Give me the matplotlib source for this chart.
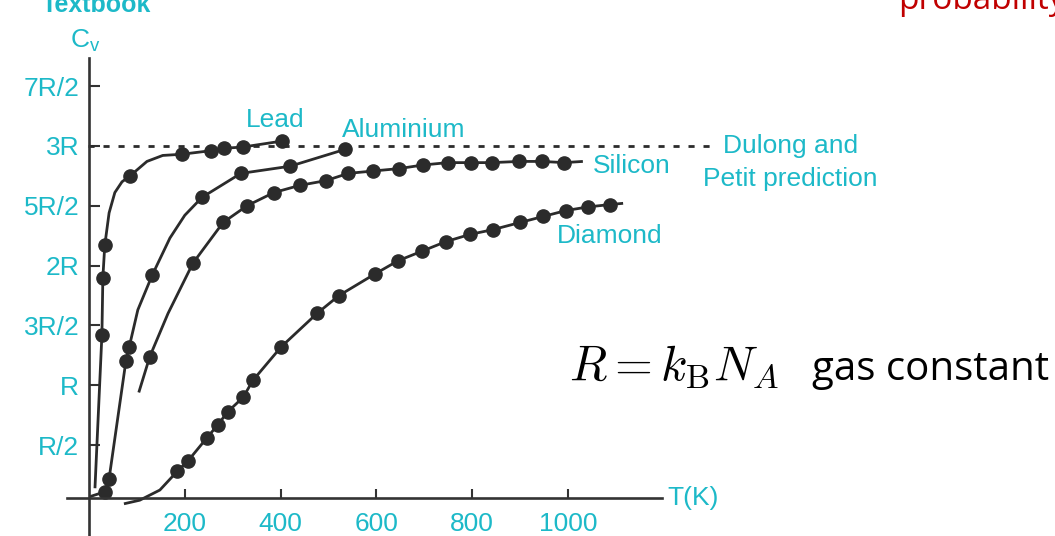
import matplotlib
matplotlib.use("Agg")
import matplotlib.pyplot as plt

# measured heat capacity, T in K, Cv in units of R
lead_T = [27, 29, 33, 86, 194, 255, 282, 321, 403]
lead_C = [1.42, 1.90, 2.17, 2.75, 2.93, 2.96, 2.98, 2.99, 3.04]
al_T = [33, 42, 77, 84, 132, 236, 317, 420, 534]
al_C = [0.11, 0.22, 1.20, 1.32, 1.92, 2.57, 2.77, 2.83, 2.97]
si_T = [127, 217, 280, 330, 386, 440, 495, 541, 593, 647, 697, 749, 797, 841, 898, 946, 992]
si_C = [1.24, 2.02, 2.36, 2.50, 2.61, 2.67, 2.71, 2.77, 2.79, 2.81, 2.84, 2.86, 2.86, 2.86, 2.87, 2.87, 2.86]
di_T = [184, 207, 246, 269, 290, 322, 342, 401, 476, 522, 597, 645, 695, 745, 795, 843, 900, 948, 996, 1042, 1088]
di_C = [0.28, 0.37, 0.56, 0.67, 0.78, 0.90, 1.04, 1.32, 1.60, 1.75, 1.93, 2.04, 2.12, 2.20, 2.26, 2.30, 2.36, 2.41, 2.46, 2.49, 2.51]

# hand-drawn fit curves
lead_curve_T = [12.5, 27, 29, 33, 42, 54, 69, 86, 121, 154, 194, 255, 282, 321, 403]
lead_curve_C = [0.14, 1.42, 1.90, 2.17, 2.44, 2.61, 2.70, 2.75, 2.87, 2.92, 2.93, 2.96, 2.98, 2.99, 3.04]
al_curve_T = [2, 33, 42, 77, 84, 102, 132, 169, 200, 236, 317, 420, 534]
al_curve_C = [0.07, 0.11, 0.22, 1.20, 1.32, 1.63, 1.92, 2.23, 2.42, 2.57, 2.77, 2.83, 2.97]
si_curve_T = [104, 127, 165] + si_T[1:] + [1031]
si_curve_C = [0.94, 1.24, 1.60] + si_C[1:] + [2.87]
di_curve_T = [73, 106, 148] + di_T + [1115]
di_curve_C = [0.01, 0.04, 0.125] + di_C + [2.52]

yticks = [0.5, 1, 1.5, 2, 2.5, 3, 3.5]
ylabels = ["R/2", "R", "3R/2", "2R", "5R/2", "3R", "7R/2"]
xticks = [200, 400, 600, 800, 1000]

cyan = "#1db9c8"
ink = "#2b2b2b"
plt.rcParams["font.family"] = ["Liberation Sans", "DejaVu Sans"]
plt.rcParams["mathtext.fontset"] = "cm"

fig = plt.figure(figsize=(10.55, 5.36), dpi=100)
ax = fig.add_axes([0.0639, 0.0, 0.5635, 0.8918])
ax.set_xlim(-45, 1196)
ax.set_ylim(-0.259, 3.734)

for ct, cc in [(lead_curve_T, lead_curve_C), (al_curve_T, al_curve_C),
               (si_curve_T, si_curve_C), (di_curve_T, di_curve_C)]:
    ax.plot(ct, cc, color=ink, lw=2, solid_capstyle="butt", clip_on=False)
for mt, mc in [(lead_T, lead_C), (al_T, al_C), (si_T, si_C), (di_T, di_C)]:
    ax.plot(mt, mc, "o", color=ink, ms=9.5, clip_on=False)

# Dulong-Petit limit
ax.plot([-2, 1303], [3, 3], color=ink, lw=2, ls=(0, (2.2, 3.2)), clip_on=False)

for s in ["top", "right"]:
    ax.spines[s].set_visible(False)
ax.spines["left"].set_position(("data", 0))
ax.spines["bottom"].set_position(("data", 0.06))
for s in ["left", "bottom"]:
    ax.spines[s].set_linewidth(1.9)
    ax.spines[s].set_color("#333333")

ax.set_yticks(yticks)
ax.set_yticklabels(ylabels)
ax.set_xticks(xticks)
ax.tick_params(axis="y", direction="in", length=8, width=1.5, color="#333333",
               pad=7, labelsize=19, labelcolor=cyan)
ax.tick_params(axis="x", direction="in", length=6.5, width=1.5, color="#333333",
               pad=10, labelsize=19, labelcolor=cyan)

ax.text(328, 3.158, "Lead", color=cyan, fontsize=19)
ax.text(528, 3.074, "Aluminium", color=cyan, fontsize=19)
ax.text(1052, 2.774, "Silicon", color=cyan, fontsize=19)
ax.text(977, 2.19, "Diamond", color=cyan, fontsize=19)
ax.text(1324, 2.94, "Dulong and", color=cyan, fontsize=19)
ax.text(1282, 2.665, "Petit prediction", color=cyan, fontsize=19)
ax.text(1207, 0.06, "T(K)", color=cyan, fontsize=19, va="center")
ax.text(-8, 3.88, r"$\mathregular{C_v}$", color=cyan, fontsize=19, ha="center", va="center")

fig.text(569 / 1055, 1 - 380 / 536, r"$R = k_{\mathrm{B}} N_A$", fontsize=35, color="black")
fig.text(812 / 1055, 1 - 380 / 536, "gas constant", fontsize=29, color="black",
         family=["Open Sans", "DejaVu Sans"])
fig.text(898 / 1055, 1 - 9 / 536, "probability", fontsize=24, color="#c00000",
         family=["Open Sans", "DejaVu Sans"])
fig.text(42 / 1055, 1 - 12 / 536, "Textbook", fontsize=18, color=cyan, weight="bold")

fig.savefig("out.png", dpi=100)
